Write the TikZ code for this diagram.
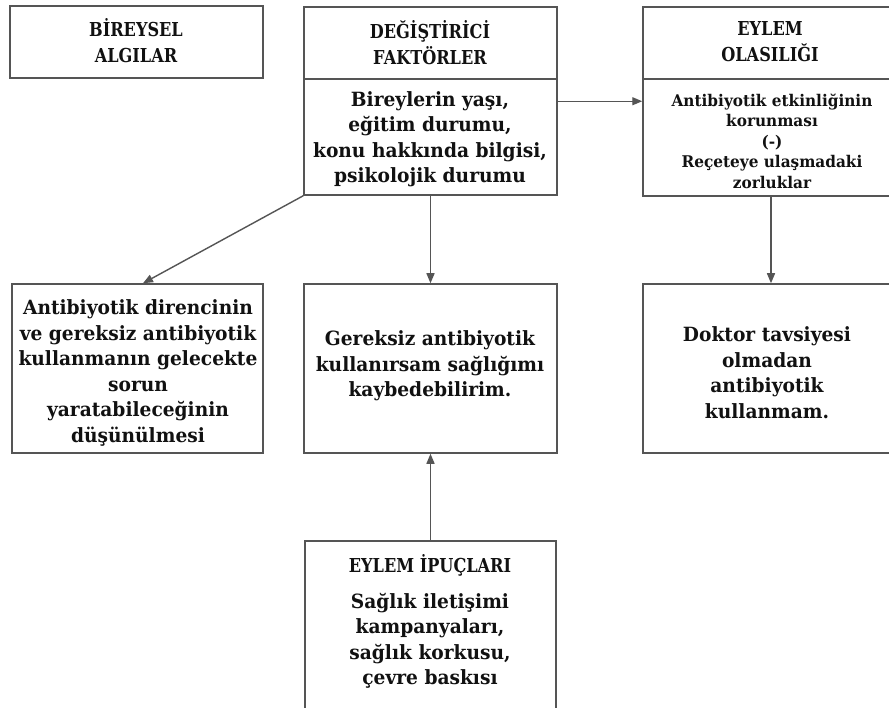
\documentclass[tikz,border=0pt]{standalone}
\usepackage{fontspec}
\usetikzlibrary{arrows.meta}
\newfontfamily\dfont{DejaVu Serif}[FakeStretch=0.95]
\newfontfamily\hfont{DejaVu Serif}[FakeStretch=0.84]
\definecolor{edge}{HTML}{555555}
\definecolor{ink}{HTML}{111111}
\tikzset{
  box/.style={draw=edge, line width=1.5pt, rectangle, inner sep=0pt, fill=white},
  txt/.style={align=center, text=ink, inner sep=0pt,
    font={\dfont\bfseries\fontsize{19.6}{25.5}\selectfont}},
  head/.style={align=center, text=ink, inner sep=0pt,
    font={\hfont\bfseries\fontsize{19.2}{26}\selectfont}},
  small/.style={align=center, text=ink, inner sep=0pt,
    font={\dfont\bfseries\fontsize{16.1}{20.5}\selectfont}},
  arr/.style={draw=edge, line width=1.4pt, -{Triangle[length=10pt,width=8pt]}}
}
\begin{document}
\begin{tikzpicture}[x=1pt, y=-1pt]
\useasboundingbox (0,0) rectangle (889,708);
\fill[white] (0,0) rectangle (889,708);

% boxes
\node[box, minimum width=253pt, minimum height=72pt]  (bir)     at (136.5,42) {};
\node[box, minimum width=253pt, minimum height=72pt]  (deghead) at (430.5,43) {};
\node[box, minimum width=253pt, minimum height=116pt] (degbody) at (430.5,137) {};
\node[box, minimum width=254pt, minimum height=72pt]  (eylhead) at (770,43) {};
\node[box, minimum width=254pt, minimum height=117pt] (eylbody) at (770,137.5) {};
\node[box, minimum width=251pt, minimum height=169pt] (left)    at (137.5,368.5) {};
\node[box, minimum width=253pt, minimum height=169pt] (mid)     at (430.5,368.5) {};
\node[box, minimum width=254pt, minimum height=169pt] (right)   at (770,368.5) {};
\node[box, minimum width=251pt, minimum height=190pt] (ipu)     at (430.5,636) {};

% texts
\node[head] (birtxt) at (136,41) {BİREYSEL\\ALGILAR};
\node[head] (degtxt) at (430,43) {DEĞİŞTİRİCİ\\FAKTÖRLER};
\node[txt]  (degbtxt) at (430,139) {Bireylerin yaşı,\\eğitim durumu,\\konu hakkında bilgisi,\\psikolojik durumu};
\node[head] (eyltxt) at (770,42) {EYLEM\\OLASILIĞI};
\node[small] (eylbtxt) at (772,141) {Antibiyotik etkinliğinin\\korunması\\(-)\\Reçeteye ulaşmadaki\\zorluklar};
\node[txt]  (lefttxt) at (138,373) {Antibiyotik direncinin\\ve gereksiz antibiyotik\\kullanmanın gelecekte\\sorun\\yaratabileceğinin\\düşünülmesi};
\node[txt]  (midtxt) at (430,366) {Gereksiz antibiyotik\\kullanırsam sağlığımı\\kaybedebilirim.};
\node[txt]  (righttxt) at (767,372.5) {Doktor tavsiyesi\\olmadan\\antibiyotik\\kullanmam.};
\node[head] (iputxt) at (430,565) {EYLEM İPUÇLARI};
\node[txt]  (ipubtxt) at (430,641) {Sağlık iletişimi\\kampanyaları,\\sağlık korkusu,\\çevre baskısı};

% connectors
\draw[arr] ([yshift=-23pt]degbody.north east) -- ([yshift=-23pt]eylbody.north west);
\draw[arr] (degbody.south west) -- ([xshift=5.5pt]left.north);
\draw[arr] (degbody.south) -- (mid.north);
\draw[arr] ([xshift=1pt]eylbody.south) -- ([xshift=1pt]right.north);
\draw[arr] (ipu.north) -- (mid.south);
\end{tikzpicture}
\end{document}
